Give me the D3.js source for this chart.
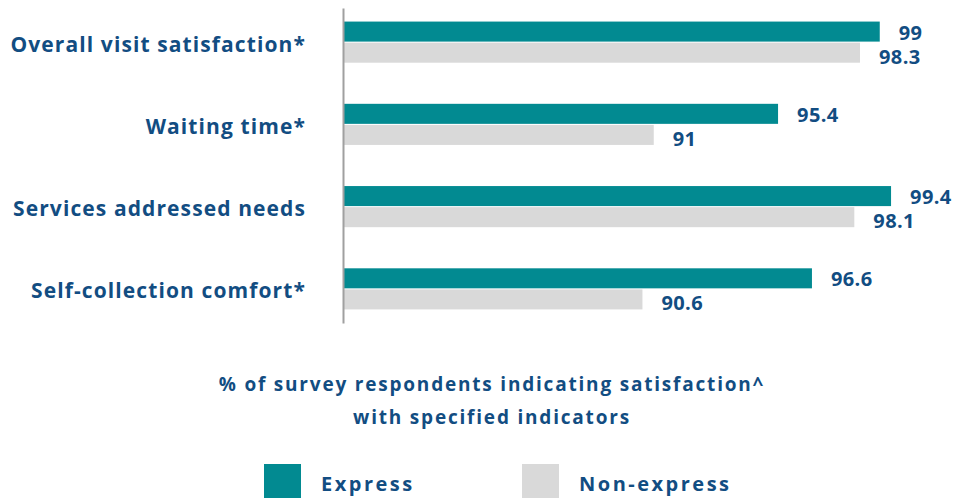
<!DOCTYPE html>
<html>
<head>
<meta charset="utf-8">
<script src="https://cdn.jsdelivr.net/npm/d3@7"></script>
<style>
    body { margin: 0; background: #fff; }
    text { font-family: "Open Sans", sans-serif; font-weight: bold; fill: #124d82; }
</style>
</head>
<body>
<div id="chart"></div>
<script>
var categories = ["Overall visit satisfaction*", "Waiting time*", "Services addressed needs", "Self-collection comfort*"];
var seriesNames = ["Express", "Non-express"];
var expressValues = [99, 95.4, 99.4, 96.6];
var nonExpressValues = [98.3, 91, 98.1, 90.6];
var titleLines = ["% of survey respondents indicating satisfaction^", "with specified indicators"];

(function() {
    var width = 954,
        height = 498;

    var colorScale = d3.scaleOrdinal()
        .domain(seriesNames)
        .range(["#028a91", "#d9d9d9"]);

    var datapoints = categories.map(function(c, i) {
        return { category: c, values: [
            { series: "Express", value: expressValues[i] },
            { series: "Non-express", value: nonExpressValues[i] }
        ]};
    });

    var xPositionScale = d3.scaleLinear()
        .domain([80, 100])
        .range([343, 908]);

    var yPositionScale = d3.scaleBand()
        .domain(categories)
        .range([8, 323])
        .paddingInner(0.5)
        .paddingOuter(0.165);

    var seriesScale = d3.scaleBand()
        .domain(seriesNames)
        .range([0, yPositionScale.bandwidth()])
        .paddingInner(0.05);

    var svg = d3.select("#chart")
        .append("svg")
        .attr("width", width)
        .attr("height", height);

    var groups = svg.selectAll(".group")
        .data(datapoints)
        .enter().append("g")
        .attr("class", "group")
        .attr("transform", function(d) {
            return "translate(0," + yPositionScale(d.category) + ")";
        });

    groups.selectAll("rect")
        .data(function(d) { return d.values; })
        .enter().append("rect")
        .attr("x", xPositionScale(80))
        .attr("y", function(d) { return seriesScale(d.series); })
        .attr("width", function(d) { return xPositionScale(d.value) - xPositionScale(80); })
        .attr("height", seriesScale.bandwidth())
        .attr("fill", function(d) { return colorScale(d.series); });

    // express label sits a bit higher, non-express a bit lower
    groups.selectAll(".value-label")
        .data(function(d) { return d.values; })
        .enter().append("text")
        .attr("class", "value-label")
        .attr("x", function(d) { return xPositionScale(d.value) + 19; })
        .attr("y", function(d) {
            var shift = d.series == "Express" ? -2 : 1;
            return seriesScale(d.series) + seriesScale.bandwidth() + shift;
        })
        .style("font-size", "20px")
        .style("letter-spacing", "0.4px")
        .text(function(d) { return d.value; });

    // category axis, left side
    var yAxis = d3.axisLeft(yPositionScale).tickSize(0).tickPadding(37);
    var axisG = svg.append("g")
        .attr("class", "axis y-axis")
        .attr("transform", "translate(" + xPositionScale(80) + ",0)")
        .call(yAxis);

    axisG.select(".domain")
        .attr("stroke", "#a0a0a0")
        .attr("stroke-width", 2);

    axisG.selectAll(".tick text")
        .attr("dy", "0.45em")
        .style("font-family", "Open Sans, sans-serif")
        .style("font-weight", "bold")
        .style("font-size", "21px")
        .style("letter-spacing", "1.1px")
        .attr("fill", "#124d82");

    // title under the chart
    svg.selectAll(".title-line")
        .data(titleLines)
        .enter().append("text")
        .attr("class", "title-line")
        .attr("x", 492)
        .attr("y", function(d, i) { return 391 + i * 33; })
        .attr("text-anchor", "middle")
        .style("font-size", "19px")
        .style("letter-spacing", "1.8px")
        .text(function(d) { return d; });

    // legend
    var legendX = [264, 522];
    var legend = svg.selectAll(".legend")
        .data(seriesNames)
        .enter().append("g")
        .attr("class", "legend")
        .attr("transform", function(d, i) { return "translate(" + legendX[i] + ",464)"; });

    legend.append("rect")
        .attr("width", 37)
        .attr("height", 36)
        .attr("fill", function(d) { return colorScale(d); });

    legend.append("text")
        .attr("x", 57)
        .attr("y", 27)
        .style("font-size", "20px")
        .style("letter-spacing", "2.5px")
        .text(function(d) { return d; });
})();
</script>
</body>
</html>
